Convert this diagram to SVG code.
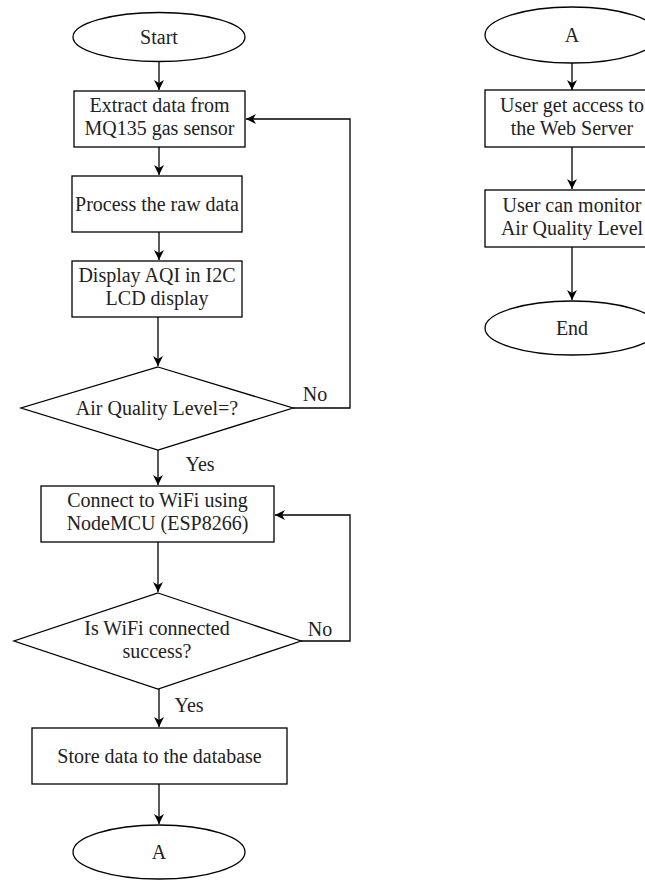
<svg xmlns="http://www.w3.org/2000/svg" width="645" height="881" viewBox="0 0 645 881">
<style>
.s{fill:#fff;stroke:#000;stroke-width:1.3}
.t{font-size:20px;fill:#222;text-anchor:middle}
.c{fill:none;stroke:#000;stroke-width:1.3;marker-end:url(#a)}
</style>
<defs>
<marker id="a" viewBox="0 0 10 10" refX="10" refY="5" markerWidth="10" markerHeight="10" markerUnits="userSpaceOnUse" orient="auto">
<path d="M0,0 L10,5 L0,10 L3,5 z" fill="#000"/>
</marker>
</defs>
<rect width="645" height="881" fill="#fff"/>
<g id="connectors">
<path class="c" d="M159,62 V90"/>
<path class="c" d="M159,147 V175"/>
<path class="c" d="M159,232 V260"/>
<path class="c" d="M158,317 V366"/>
<path class="c" d="M293,408 H350 V119 H246"/>
<path class="c" d="M158,450 V485"/>
<path class="c" d="M158,542 V592"/>
<path class="c" d="M301,641 H350 V515 H275"/>
<path class="c" d="M159,689 V727"/>
<path class="c" d="M159,784 V824"/>
<path class="c" d="M572,63 V90"/>
<path class="c" d="M572,147 V189"/>
<path class="c" d="M572,247 V300"/>
</g>
<g font-family="Liberation Serif">
<g id="start"><ellipse class="s" cx="159" cy="37" rx="86" ry="24.5"/><text class="t" x="159" y="44">Start</text></g>
<g id="extract"><rect class="s" x="74" y="91" width="171" height="56"/><text class="t" x="159.5" y="112">Extract data from</text><text class="t" x="159.5" y="135">MQ135 gas sensor</text></g>
<g id="process"><rect class="s" x="72" y="176" width="170" height="56"/><text class="t" x="157" y="211">Process the raw data</text></g>
<g id="display"><rect class="s" x="72" y="261" width="170" height="56"/><text class="t" x="157" y="282">Display AQI in I2C</text><text class="t" x="157" y="305">LCD display</text></g>
<g id="aql"><polygon class="s" points="158,367 293,408 158,450 21,408"/><text class="t" x="157" y="415">Air Quality Level=?</text></g>
<text class="t" x="315" y="401">No</text>
<text class="t" x="200" y="471">Yes</text>
<g id="wifi"><rect class="s" x="41" y="486" width="233" height="56"/><text class="t" x="157.5" y="507">Connect to WiFi using</text><text class="t" x="157.5" y="530">NodeMCU (ESP8266)</text></g>
<g id="wifiok"><polygon class="s" points="158,593 301,641 158,689 14,641"/><text class="t" x="157" y="635">Is WiFi connected</text><text class="t" x="157" y="658">success?</text></g>
<text class="t" x="320" y="636">No</text>
<text class="t" x="189" y="712">Yes</text>
<g id="store"><rect class="s" x="32" y="728" width="255" height="56"/><text class="t" x="159.5" y="763">Store data to the database</text></g>
<g id="a1"><ellipse class="s" cx="159" cy="852" rx="86" ry="27"/><text class="t" x="159" y="859">A</text></g>
<g id="a2"><ellipse class="s" cx="572" cy="35" rx="87" ry="28"/><text class="t" x="572" y="42">A</text></g>
<g id="access"><rect class="s" x="485" y="90" width="172" height="57"/><text class="t" x="572" y="112">User get access to</text><text class="t" x="572" y="135">the Web Server</text></g>
<g id="monitor"><rect class="s" x="485" y="190" width="172" height="57"/><text class="t" x="572" y="212">User can monitor</text><text class="t" x="572" y="235">Air Quality Level</text></g>
<g id="end"><ellipse class="s" cx="572" cy="328" rx="87" ry="27"/><text class="t" x="572" y="335">End</text></g>
</g>
</svg>
